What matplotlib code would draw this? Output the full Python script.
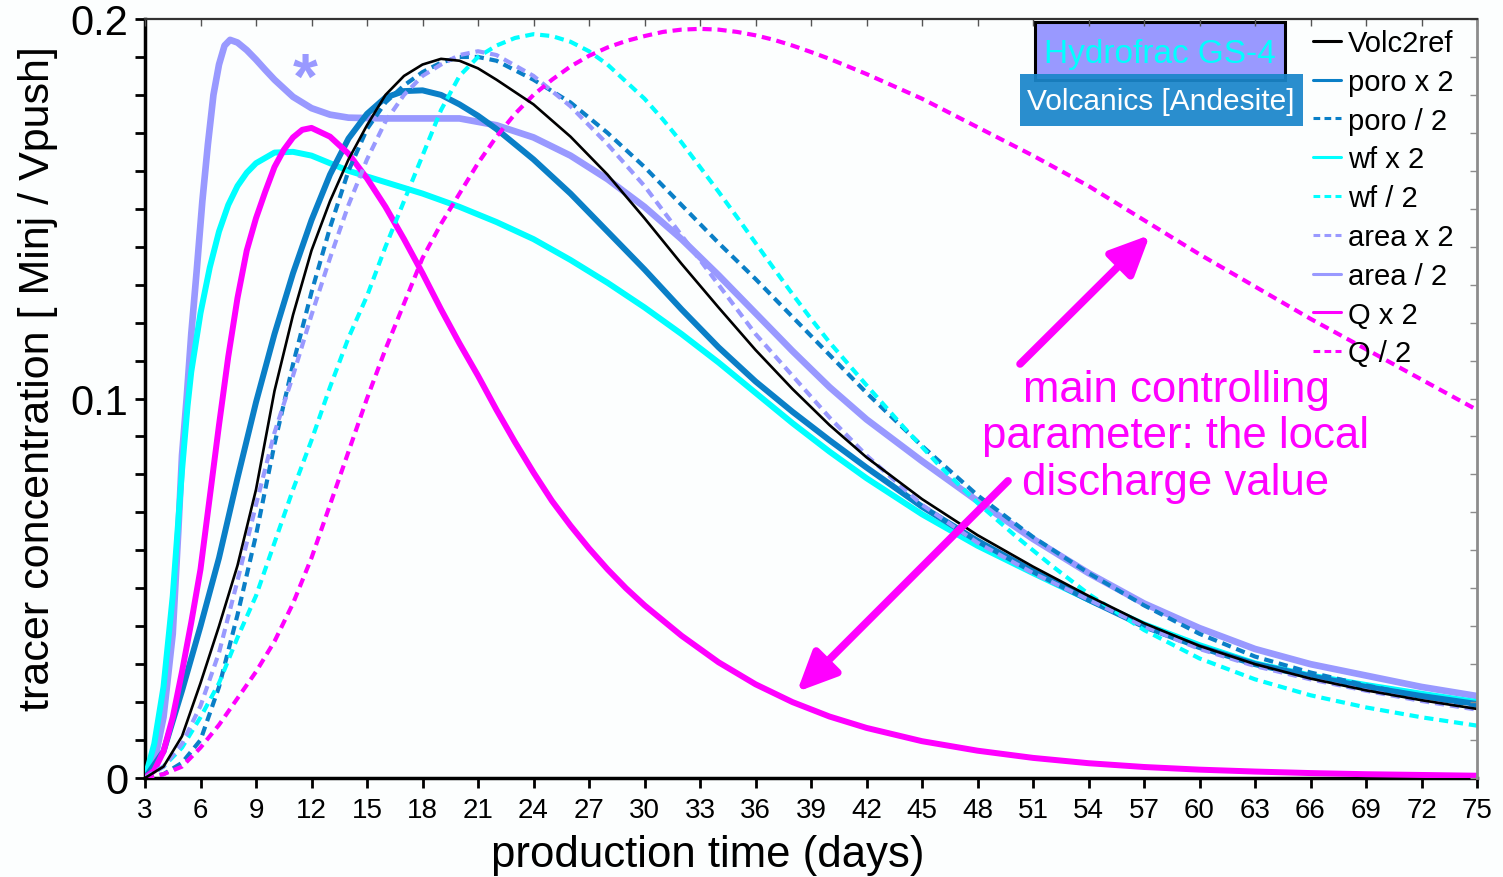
import matplotlib
matplotlib.use("Agg")
import matplotlib.pyplot as plt
from matplotlib.patches import Rectangle
from matplotlib.ticker import MultipleLocator

plt.rcParams['font.family'] = ['Liberation Sans', 'DejaVu Sans']

# ---------------- breakthrough curves (day, concentration) ----------------
ref_days = [3, 4, 5, 6, 7, 8, 9, 10, 11, 12, 13, 14, 15, 16, 17, 18, 19, 20, 21, 22,
            24, 26, 28, 30, 32, 34, 36, 38, 40, 42, 45, 48, 51, 54, 57, 60, 63, 66, 69, 72, 75]
ref_conc = [0, .003, .011, .025, .040, .056, .076, .102, .122, .139, .152, .163, .172, .180,
            .185, .188, .1895, .189, .187, .184, .1775, .169, .159, .1475, .1355, .124, .1128,
            .1025, .0930, .0845, .0735, .0640, .0557, .0480, .0408, .0348, .0300, .0262, .0231,
            .0205, .0182]

poro_x2_days = [3, 4, 5, 6, 7, 8, 9, 10, 11, 12, 13, 14, 15, 16, 17, 18, 19, 20, 21, 22,
                24, 26, 28, 30, 32, 34, 36, 38, 40, 42, 45, 48, 51, 54, 57, 60, 63, 66, 69, 72, 75]
poro_x2_conc = [0, .007, .023, .040, .058, .079, .099, .117, .133, .147, .159, .1685, .175,
                .1793, .181, .1812, .1800, .1775, .1745, .171, .163, .154, .144, .134, .1235,
                .1135, .1045, .0965, .0890, .0818, .0715, .0625, .0545, .047, .040, .0345, .030,
                .0268, .0240, .0216, .0195]

poro_h_days = [3, 4, 5, 6, 7, 8, 9, 10, 11, 12, 13, 14, 15, 16, 17, 18, 19, 20, 21, 22,
               24, 26, 28, 30, 32, 34, 36, 38, 40, 42, 45, 48, 51, 54, 57, 60, 63, 66, 69, 72, 75]
poro_h_conc = [0, .001, .004, .010, .024, .043, .064, .088, .109, .128, .145, .160, .171, .178,
               .1825, .186, .1885, .190, .190, .189, .184, .178, .170, .161, .151, .141, .1315,
               .1215, .1115, .1015, .0875, .0745, .0635, .0540, .0455, .0380, .0320, .0278,
               .0244, .0215, .0190]

wf_x2_days = [3, 3.5, 4, 4.5, 5, 5.3, 5.5, 6, 6.5, 7, 7.5, 8, 8.5, 9, 10, 11, 12, 14, 16, 18,
              20, 22, 24, 26, 28, 30, 32, 34, 36, 38, 40, 42, 45, 48, 51, 54, 57, 60, 63, 66, 69,
              72, 75]
wf_x2_conc = [0, .009, .024, .048, .081, .098, .107, .1225, .1345, .1440, .1510, .1560, .1595,
              .1620, .1648, .1650, .1640, .160, .157, .154, .1505, .1465, .1420, .1365, .1305,
              .1240, .1170, .1095, .1015, .0935, .0860, .0790, .0695, .0612, .0540, .0470, .0405,
              .0350, .0302, .0270, .0245, .0222, .0200]

wf_h_days = [3, 4, 5, 6, 7, 8, 9, 10, 11, 12, 13, 14, 15, 16, 17, 18, 19, 20, 21, 22, 23, 24,
             25, 26, 27, 28, 29, 30, 31, 32, 33, 34, 35, 36, 37, 38, 39, 40, 42, 44, 46, 48, 50,
             52, 54, 57, 60, 63, 66, 69, 72, 75]
wf_h_conc = [0, .003, .008, .016, .025, .037, .048, .062, .076, .089, .103, .116, .127, .140,
             .152, .164, .176, .185, .190, .193, .195, .196, .1955, .194, .1915, .188, .1835,
             .1790, .1735, .1675, .1610, .1545, .1478, .1410, .1342, .1275, .1210, .1148, .1035,
             .0925, .0820, .0725, .0640, .0560, .0485, .0390, .0315, .0260, .0218, .0186, .0160,
             .0138]

area_x2_days = [3, 4, 5, 6, 7, 8, 9, 10, 11, 12, 13, 14, 15, 16, 17, 18, 19, 20, 21, 22, 24,
                26, 28, 30, 32, 34, 36, 38, 40, 42, 45, 48, 51, 54, 57, 60, 63, 66, 69, 72, 75]
area_x2_conc = [0, .003, .009, .019, .033, .052, .072, .091, .106, .122, .137, .151, .163, .173,
                .180, .185, .188, .1905, .1915, .1905, .185, .177, .167, .156, .143, .130, .117,
                .106, .095, .085, .072, .062, .054, .047, .040, .034, .0295, .026, .023, .0203, .018]

area_h_days = [3, 3.5, 4, 4.5, 4.8, 5, 5.25, 5.5, 5.8, 6.1, 6.4, 6.7, 7, 7.3, 7.6, 8, 8.5, 9,
               9.5, 10, 11, 12, 13, 14, 16, 18, 20, 22, 24, 26, 28, 30, 32, 34, 36, 38, 40, 42,
               45, 48, 51, 54, 57, 60, 63, 66, 69, 72, 75]
area_h_conc = [0, .004, .016, .038, .065, .085, .100, .117, .134, .152, .167, .180, .188, .193,
               .1945, .1938, .1918, .1893, .1866, .1840, .1795, .1765, .1748, .1740, .1738,
               .1738, .1738, .1720, .1688, .1640, .1578, .1505, .1420, .1325, .1225, .1125,
               .1030, .0945, .0835, .0730, .0630, .0540, .0460, .0395, .0340, .0300, .0270,
               .0240, .0216]

q_x2_days = [3, 3.5, 4, 4.5, 5, 5.5, 6, 6.5, 7, 7.5, 8, 8.5, 9, 9.5, 10, 10.5, 11, 11.5, 12,
             13, 14, 15, 16, 17, 18, 19, 20, 21, 22, 23, 24, 25, 26, 27, 28, 29, 30, 32, 34, 36,
             38, 40, 42, 45, 48, 51, 54, 57, 60, 63, 66, 69, 72, 75]
q_x2_conc = [0, .002, .007, .016, .028, .041, .055, .074, .093, .111, .1265, .139, .1475, .1545,
             .1610, .1655, .1688, .1708, .1713, .169, .1645, .158, .1505, .142, .133, .1235,
             .1145, .106, .097, .0885, .0805, .073, .0665, .0605, .055, .050, .0455, .0375,
             .0305, .0247, .0200, .0162, .0132, .0097, .0072, .0053, .0039, .0029, .0022, .0017,
             .0013, .0010, .0008, .0006]

q_h_days = [3, 4, 5, 6, 7, 8, 9, 10, 11, 12, 13, 14, 15, 16, 17, 18, 19, 20, 21, 22, 23, 24,
            25, 26, 27, 28, 29, 30, 31, 32, 33, 34, 35, 36, 37, 38, 39, 40, 42, 45, 48, 51, 54,
            57, 60, 63, 66, 69, 72, 75]
q_h_conc = [0, .001, .003, .008, .014, .021, .028, .036, .046, .058, .072, .086, .100, .113,
            .125, .137, .146, .154, .162, .169, .175, .180, .184, .1875, .1903, .1925, .1942,
            .1955, .1966, .1972, .1974, .1972, .1966, .1957, .1945, .1930, .1913, .1895, .1855,
            .1790, .1715, .1640, .1560, .1470, .1380, .1295, .1210, .1130, .1050, .0970]

labels = ['Volc2ref', 'poro x 2', 'poro / 2', 'wf x 2', 'wf / 2',
          'area x 2', 'area / 2', 'Q x 2', 'Q / 2']

x_ticks = list(range(3, 76, 3))
y_ticks = [0, 0.1, 0.2]
y_ticklabels = ['0', '0.1', '0.2']

BLACK = '#000000'
BLUE = '#0a7fc7'
CYAN = '#00ffff'
LAV = '#9999ff'
MAG = '#ff00ff'
DASH = (0, (2.2, 1.4))

fig = plt.figure(figsize=(15.03, 8.78), dpi=100, facecolor='#fcfefe')
rect = [145 / 1503, 99 / 878, 1332 / 1503, 759 / 878]
ax = fig.add_axes(rect, facecolor='#fcfefe')

series = [
    (ref_days, ref_conc, BLACK, '-', 1.9, 9),
    (poro_x2_days, poro_x2_conc, BLUE, '-', 4.3, 5),
    (poro_h_days, poro_h_conc, BLUE, DASH, 3.0, 7),
    (wf_x2_days, wf_x2_conc, CYAN, '-', 4.3, 4),
    (wf_h_days, wf_h_conc, CYAN, DASH, 3.0, 7),
    (area_x2_days, area_x2_conc, LAV, DASH, 3.0, 7),
    (area_h_days, area_h_conc, LAV, '-', 4.8, 3),
    (q_x2_days, q_x2_conc, MAG, '-', 4.3, 6),
    (q_h_days, q_h_conc, MAG, DASH, 3.0, 8),
]
handles = []
for (d, c, col, ls, lw, z), lab in zip(series, labels):
    ln, = ax.plot(d, c, color=col, linestyle=ls, linewidth=lw, zorder=z, label=lab,
                  solid_capstyle='round', solid_joinstyle='round')
    handles.append(ln)

ax.set_xlim(3, 75)
ax.set_ylim(0, 0.2)
ax.set_xticks(x_ticks)
ax.set_xticklabels([str(t) for t in x_ticks], fontsize=20)
ax.set_yticks(y_ticks)
ax.set_yticklabels(y_ticklabels, fontsize=30)
ax.yaxis.set_minor_locator(MultipleLocator(0.01))
ax.tick_params(axis='x', which='major', direction='out', length=7, width=2, pad=7)
ax.tick_params(axis='y', which='major', direction='out', length=7, width=2, pad=5)
ax.tick_params(axis='y', which='minor', direction='out', length=7, width=2)
for s in ('top', 'right'):
    ax.spines[s].set_visible(False)
for s in ('left', 'bottom'):
    ax.spines[s].set_linewidth(2.5)
    ax.spines[s].set_color('black')

# frame overlay carrying the inward ticks on top and right
frame = fig.add_axes(rect, facecolor='none', sharex=ax, sharey=ax)
frame.set_zorder(ax.get_zorder() + 1)
for s in ('left', 'bottom'):
    frame.spines[s].set_visible(False)
frame.spines['top'].set_color('#333333')
frame.spines['top'].set_linewidth(1.6)
frame.spines['right'].set_color('#8c8c8c')
frame.spines['right'].set_linewidth(2)
frame.tick_params(axis='both', which='both', direction='in', bottom=False, left=False,
                  top=True, right=True, labelbottom=False, labelleft=False,
                  labeltop=False, labelright=False)
frame.tick_params(axis='x', which='major', length=5, width=1, color='#555555')
frame.tick_params(axis='y', which='both', length=5, width=1, color='#8c8c8c')

fig.text(708 / 1503, 2 / 878, 'production time (days)', fontsize=31.5, ha='center',
         va='bottom')
fig.text(38 / 1503, (878 - 379) / 878, 'tracer concentration [ Minj / Vpush]',
         fontsize=31, rotation=90, ha='center', va='center')

# legend (no frame)
leg = ax.legend(handles=handles, loc='upper left', frameon=False, fontsize=21,
                bbox_to_anchor=(1313 / 1503, (878 - 30) / 878), bbox_transform=fig.transFigure,
                borderpad=0, borderaxespad=0, handlelength=0.95, handletextpad=0.25,
                labelspacing=0.37)
leg.set_zorder(20)
for ln in leg.get_lines():
    ln.set_linewidth(2.2)

# title boxes
ax.add_patch(Rectangle((0.6682, 0.920), 0.1877, 0.076, transform=ax.transAxes,
                       facecolor=LAV, edgecolor='black', linewidth=2.2, zorder=12,
                       clip_on=False))
ax.text(0.762, 0.954, 'Hydrofrac GS-4', transform=ax.transAxes, ha='center', va='center',
        fontsize=24, color=CYAN, zorder=13)
ax.add_patch(Rectangle((0.6569, 0.859), 0.2125, 0.0685, transform=ax.transAxes,
                       facecolor='#1a86cb', edgecolor='none', alpha=0.93, zorder=14,
                       clip_on=False))
ax.text(0.7628, 0.8925, 'Volcanics [Andesite]', transform=ax.transAxes, ha='center',
        va='center', fontsize=21.5, color='white', zorder=15)

# annotation
ax.text(0.774, 0.4506, 'main controlling\nparameter: the local\ndischarge value',
        transform=ax.transAxes, ha='center', va='center', fontsize=31.5, color=MAG,
        linespacing=1.18, multialignment='center', zorder=16)
arrow_style = '-|>,head_length=24,head_width=11'
ax.annotate('', xy=(57.32, 0.1431), xytext=(50.3, 0.1091),
            arrowprops=dict(arrowstyle=arrow_style, color=MAG, lw=5.5, mutation_scale=1,
                            shrinkA=0, shrinkB=0), zorder=16)
ax.annotate('', xy=(38.24, 0.0227), xytext=(49.65, 0.0783),
            arrowprops=dict(arrowstyle=arrow_style, color=MAG, lw=5.5, mutation_scale=1,
                            shrinkA=0, shrinkB=0), zorder=16)
ax.text(11.65, 0.1792, '*', color=LAV, fontsize=46, fontweight='bold', ha='center',
        va='baseline', zorder=10)

fig.savefig('out.png', dpi=100, facecolor=fig.get_facecolor())
